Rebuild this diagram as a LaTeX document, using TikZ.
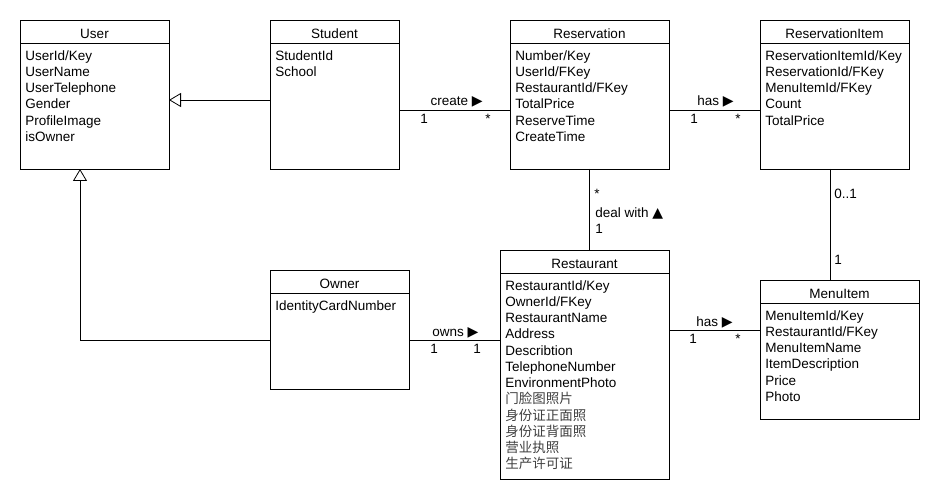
\documentclass[tikz,border=0pt]{standalone}
\usepackage{fontspec}
\setmainfont{Liberation Sans}
\newfontfamily\cjkfont{Noto Sans CJK SC}
\newfontfamily\symfont{DejaVu Sans}
\usepackage{tikz}
\usetikzlibrary{arrows.meta,positioning,calc}
\tikzset{>=latex}

\tikzset{
  umlbox/.style={draw, anchor=north west, inner sep=0pt, outer sep=0pt},
  umltitle/.style={inner sep=0pt, font=\fontsize{13.5}{16.25}\selectfont},
  umlattr/.style={anchor=north west, align=left, inner sep=0pt, font=\fontsize{13.5}{16.25}\selectfont},
  lbl/.style={inner sep=0pt, anchor=base west, font=\fontsize{13.5}{16.25}\selectfont},
  gen/.style={-{Triangle[open,length=12pt,width=14pt]}},
}

% one class box: name, x, y, width, height, title, attributes
\newcommand{\umlclass}[7]{%
  \node[umlbox, minimum width=#4pt, minimum height=#5pt] (#1) at (#2,#3) {};
  \node[umltitle] (#1-title) at ([yshift=-13.5pt]#1.north) {#6};
  \draw ([yshift=-23.5pt]#1.north west) -- ([yshift=-23.5pt]#1.north east);
  \node[umlattr] (#1-attrs) at ([xshift=5pt,yshift=-30pt]#1.north west) {#7};
}
\newcommand{\cjkline}[1]{{\cjkfont\color{black!75}#1}}
\newcommand{\rtri}{{\symfont\fontsize{14}{16}\selectfont\char"25B6}}
\newcommand{\utri}{{\symfont\fontsize{14}{16}\selectfont\char"25B2}}

\begin{document}
\begin{tikzpicture}[x=1pt,y=-1pt,line width=0.8pt]
\useasboundingbox (0,0) rectangle (940,500);

\umlclass{user}{20}{20}{149}{149}{User}{UserId/Key\\UserName\\UserTelephone\\Gender\\ProfileImage\\isOwner}
\umlclass{student}{270}{20}{129}{149}{Student}{StudentId\\School}
\umlclass{reservation}{510}{20}{159}{149}{Reservation}{Number/Key\\UserId/FKey\\RestaurantId/FKey\\TotalPrice\\ReserveTime\\CreateTime}
\umlclass{resitem}{760}{20}{149}{149}{ReservationItem}{ReservationItemId/Key\\ReservationId/FKey\\MenuItemId/FKey\\Count\\TotalPrice}
\umlclass{owner}{270}{270}{139}{119}{Owner}{IdentityCardNumber}
\umlclass{restaurant}{500}{250}{169}{229}{Restaurant}{RestaurantId/Key\\OwnerId/FKey\\RestaurantName\\Address\\Describtion\\TelephoneNumber\\EnvironmentPhoto\\\cjkline{门脸图照片}\\\cjkline{身份证正面照}\\\cjkline{身份证背面照}\\\cjkline{营业执照}\\\cjkline{生产许可证}}
\umlclass{menuitem}{760}{280}{159}{139}{MenuItem}{MenuItemId/Key\\RestaurantId/FKey\\MenuItemName\\ItemDescription\\Price\\Photo}

% generalization
\draw[gen] ([yshift=-5.5pt]student.west) -- ([yshift=-5.5pt]user.east);
\draw[gen] ([yshift=-10.5pt]owner.west) -| ([xshift=-14.5pt]user.south);

% associations
\draw ([yshift=-15.5pt]student.east) -- ([yshift=-15.5pt]reservation.west);
\draw ([yshift=-15.5pt]reservation.east) -- ([yshift=-15.5pt]resitem.west);
\draw (reservation.south) -- (reservation.south |- restaurant.north);
\draw ([xshift=-4.5pt]resitem.south) -- ([xshift=-4.5pt]resitem.south |- menuitem.north);
\draw ([yshift=-10.5pt]owner.east) -- ([yshift=-10.5pt]owner.east -| restaurant.west);
\draw ([yshift=19.5pt]menuitem.west) -- ([yshift=19.5pt]menuitem.west -| restaurant.east);

% labels
\node[lbl, anchor=base east] (create) at (483,106) {create \rtri};
\node[lbl] (create-1) at (420,123.5) {1};
\node[lbl] (create-n) at (485,123.5) {*};
\node[lbl] (has1) at (697,106) {has \rtri};
\node[lbl] (has1-1) at (690,123.5) {1};
\node[lbl] (has1-n) at (735,123.5) {*};
\node[lbl] (deal-n) at (594,198) {*};
\node[lbl] (deal) at (595,217) {deal with \utri};
\node[lbl] (deal-1) at (595,233) {1};
\node[lbl] (item-01) at (834,198) {0..1};
\node[lbl] (item-1) at (834,264.5) {1};
\node[lbl] (owns) at (432,336) {owns \rtri};
\node[lbl] (owns-1) at (430,353) {1};
\node[lbl] (owns-2) at (473,353) {1};
\node[lbl] (has2) at (696,326) {has \rtri};
\node[lbl] (has2-1) at (689,343) {1};
\node[lbl] (has2-n) at (735,343) {*};

\end{tikzpicture}
\end{document}
